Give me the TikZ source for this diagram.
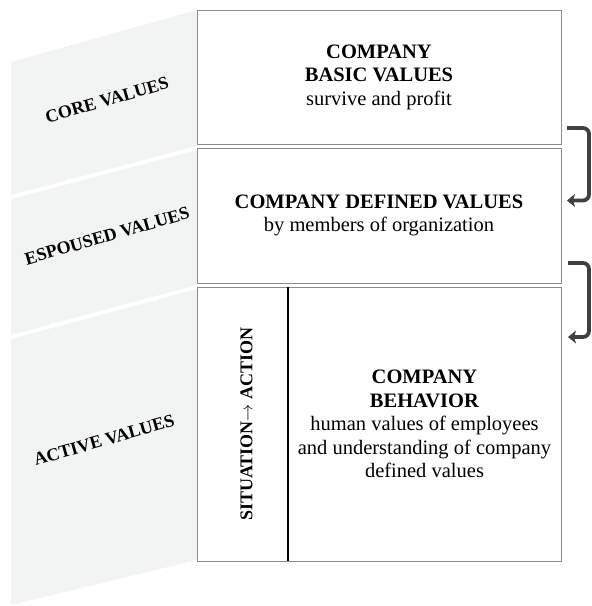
\documentclass[tikz,border=0pt]{standalone}
\usepackage{fontspec}
\setmainfont{Liberation Serif}
\usetikzlibrary{arrows.meta}
\definecolor{panelgray}{RGB}{242,243,243}
\definecolor{framegray}{RGB}{140,140,140}
\definecolor{bracketgray}{RGB}{64,64,64}

\begin{document}
\begin{tikzpicture}
[x=1pt, y=-1pt,
every node/.style={inner sep=0pt, outer sep=0pt},
panel/.style={fill=panelgray},
level/.style={font=\fontsize{18}{20}\selectfont\bfseries, rotate=16},
valuebox/.style={draw=framegray, line width=0.8pt},
boxtext/.style={align=center, font=\fontsize{20.5}{23.5}\selectfont},
bracket/.style={draw=bracketgray, line width=3.8pt, rounded corners=6pt, -{Stealth[length=8pt,width=13pt,inset=2pt]}}]
\useasboundingbox (0,0) rectangle (592,606);

% slanted bands on the left
\fill[panel] (11,62) -- (197,10) -- (197,146) -- (11,195) -- cycle;
\fill[panel] (11,199) -- (197,150) -- (197,285) -- (11,335) -- cycle;
\fill[panel] (11,339) -- (197,289) -- (197,560) -- (11,605) -- cycle;
\node[level] (core) at (107,100) {CORE VALUES};
\node[level] (espoused) at (107,236) {ESPOUSED VALUES};
\node[level] (active) at (104,440) {ACTIVE VALUES};

% value boxes
\node[valuebox, boxtext, minimum width=364pt, minimum height=134pt] (basic) at (379,77)
  {\textbf{COMPANY}\\\textbf{BASIC VALUES}\\survive and profit};
\node[valuebox, boxtext, minimum width=364pt, minimum height=135pt] (defined) at (379,215.5)
  {\textbf{COMPANY DEFINED VALUES}\\by members of organization};
\node[valuebox, minimum width=91pt, minimum height=274pt] (trigger) at (242.5,424) {};
\node[valuebox, boxtext, minimum width=273pt, minimum height=274pt] (behavior) at (424.5,424)
  {\textbf{COMPANY}\\\textbf{BEHAVIOR}\\human values of employees\\and understanding of company\\defined values};
\draw[line width=1.5pt] (trigger.north east) -- (trigger.south east);
\node[rotate=90, font=\fontsize{18}{20}\selectfont\bfseries] (situation) at ([xshift=4pt]trigger.center)
  {SITUATION$\rightarrow$\ ACTION};

% brackets on the right
\draw[bracket] ([xshift=6pt,yshift=16pt]basic.south east) -- ++(22,0) |- ([xshift=6pt,yshift=15pt]defined.east);
\draw[bracket] ([xshift=7pt,yshift=20pt]defined.south east) -- ++(21,0) |- ([xshift=7pt,yshift=-50pt]behavior.north east);
\end{tikzpicture}
\end{document}
